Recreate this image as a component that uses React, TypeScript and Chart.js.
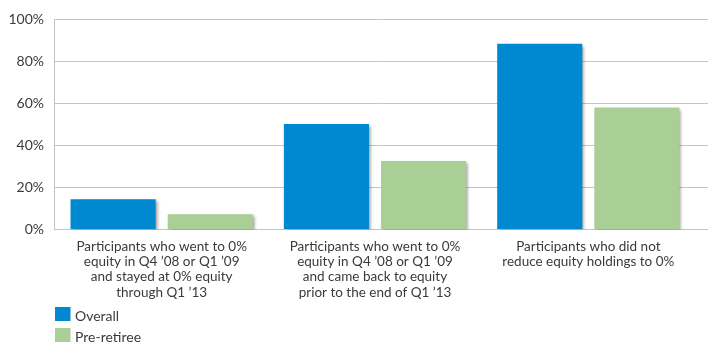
import React, { useEffect, useRef } from "react";
import { Chart, registerables } from "chart.js";

Chart.register(...registerables);

const categories: string[][] = [
  ["Participants who went to 0%", "equity in Q4 ’08 or Q1 ’09", "and stayed at 0% equity", "through Q1 ’13"],
  ["Participants who went to 0%", "equity in Q4 ’08 or Q1 ’09", "and came back to equity", "prior to the end of Q1 ’13"],
  ["Participants who did not", "reduce equity holdings to 0%"],
];
const seriesNames = ["Overall", "Pre-retiree"];
const overallValues = [14.4, 50.1, 88.2];
const preRetireeValues = [7.3, 32.5, 57.9];
const yTicks = [0, 20, 40, 60, 80, 100];

const BLUE = "#0088d1";
const GREEN = "#a9cf96";
const TEXT = "#3a3a3a";
const GRID = "#c4c4c4";
const FONT = "Lato, 'Open Sans', sans-serif";

const shadowPlugin = {
  id: "barShadow",
  beforeDatasetsDraw(chart: any) {
    const ctx = chart.ctx;
    ctx.save();
    ctx.shadowColor = "rgba(0,0,0,0.38)";
    ctx.shadowOffsetX = 2;
    ctx.shadowOffsetY = 2;
    ctx.shadowBlur = 3;
  },
  afterDatasetsDraw(chart: any) {
    chart.ctx.restore();
  },
};

// x categories end a little before the gridlines' right end
const xInsetPlugin = {
  id: "xInset",
  afterLayout(chart: any) {
    const x = chart.scales.x;
    const inset = 13;
    x.left = chart.chartArea.left + 1;
    x.right = chart.chartArea.right - inset;
    x.width = x.right - x.left;
    x.configure();
  },
};

const legendPlugin = {
  id: "stackLegend",
  afterDraw(chart: any) {
    const ctx = chart.ctx;
    ctx.save();
    ctx.font = `14px ${FONT}`;
    ctx.textBaseline = "middle";
    ctx.textAlign = "left";
    chart.data.datasets.forEach((ds: any, i: number) => {
      const top = 307 + i * 21;
      ctx.fillStyle = ds.backgroundColor;
      ctx.fillRect(55, top, 15.5, 14);
      ctx.fillStyle = TEXT;
      ctx.fillText(ds.label, 75, top + 9.5);
    });
    ctx.restore();
  },
};

export default function App() {
  const ref = useRef<HTMLCanvasElement | null>(null);
  useEffect(() => {
    if (!ref.current) return;
    const chart = new Chart(ref.current, {
      type: "bar",
      data: {
        labels: categories,
        datasets: [
          { label: seriesNames[0], data: overallValues, backgroundColor: BLUE },
          { label: seriesNames[1], data: preRetireeValues, backgroundColor: GREEN },
        ],
      },
      options: {
        animation: false,
        responsive: true,
        maintainAspectRatio: false,
        layout: { padding: { top: 19, right: 17, left: 0, bottom: 0 } },
        datasets: { bar: { categoryPercentage: 0.911, barPercentage: 0.876 } },
        plugins: { legend: { display: false }, tooltip: { enabled: false } },
        scales: {
          x: {
            grid: { display: false, drawTicks: false },
            border: { display: false },
            ticks: {
              color: TEXT,
              padding: 9,
              maxRotation: 0,
              autoSkip: false,
              font: { family: FONT, size: 13.5, lineHeight: 1.14 },
            },
            afterFit(scale: any) {
              scale.height = 130.5;
            },
          },
          y: {
            min: 0,
            max: 100,
            afterBuildTicks(scale: any) {
              scale.ticks = yTicks.map((v) => ({ value: v }));
            },
            grid: { color: GRID, drawTicks: false, lineWidth: 1 },
            border: { display: true, color: GRID },
            ticks: {
              color: TEXT,
              padding: 10,
              font: { family: FONT, size: 14 },
              callback: (v: any) => `${v}%`,
            },
            afterFit(scale: any) {
              scale.width = 54;
            },
          },
        },
      },
      plugins: [shadowPlugin, xInsetPlugin, legendPlugin],
    });
    return () => chart.destroy();
  }, []);
  return (
    <div style={{ position: "fixed", left: 0, top: 0, width: 725, height: 360, background: "#fff" }}>
      <canvas ref={ref} />
    </div>
  );
}
